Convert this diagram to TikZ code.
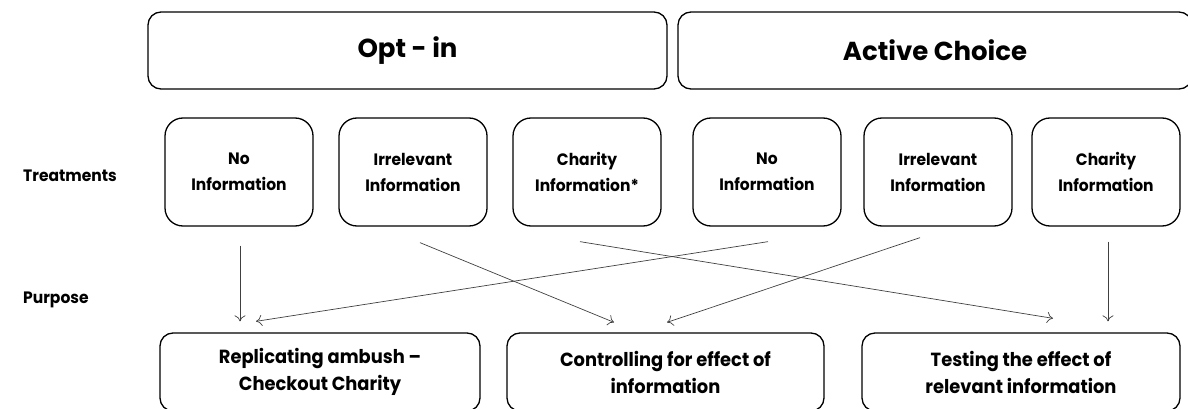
\documentclass[tikz,border=0pt]{standalone}
\usepackage{fontspec}
\setmainfont{Poppins}
\newfontfamily\narrowfont[FakeStretch=0.94]{Poppins}
\usetikzlibrary{calc,arrows.meta}
\begin{document}
\begin{tikzpicture}[x=1pt,y=-1pt,
  topbox/.style={draw=black, line width=1.3pt, rounded corners=13pt, font=\fontsize{26}{30}\selectfont\bfseries, inner sep=0pt},
  tbox/.style={draw=black, line width=1.3pt, rounded corners=18pt, minimum width=148pt, minimum height=108pt, font=\narrowfont\fontsize{16.5}{26}\selectfont\bfseries, align=center, inner sep=0pt},
  pbox/.style={draw=black, line width=1.3pt, rounded corners=13pt, minimum height=78pt, font=\narrowfont\fontsize{19}{27}\selectfont\bfseries, align=center, inner sep=0pt},
  lbl/.style={font=\narrowfont\fontsize{16.5}{20}\selectfont\bfseries, inner sep=0pt},
  arr/.style={draw=black!75, line width=0.7pt, -{To[length=6pt,width=11pt]}}
]
\useasboundingbox (0,0) rectangle (1188,409);
\node[topbox, minimum width=519pt, minimum height=77pt] (optin) at (407.5,50.5) {Opt - in};
\node[topbox, minimum width=514pt, minimum height=77pt] (active) at (935,50.5) {Active Choice};

\node[lbl, anchor=east] (treat) at (117,176) {Treatments};
\node[lbl, anchor=west] (purp) at (treat.west |- 0,300) {Purpose};

\node[tbox] (t1) at (239,172) {No\\Information};
\node[tbox] (t2) at (413,172) {Irrelevant\\Information};
\node[tbox] (t3) at (587,172) {Charity\\Information*};
\node[tbox] (t4) at (767,172) {No\\Information};
\node[tbox] (t5) at (938,172) {Irrelevant\\Information};
\node[tbox] (t6) at (1106,172) {Charity\\Information};

\node[pbox, minimum width=320pt] (p1) at (320,372) {Replicating ambush –\\Checkout Charity};
\node[pbox, minimum width=317pt] (p2) at (665.5,372) {Controlling for effect of\\information};
\node[pbox, minimum width=318pt] (p3) at (1021,372) {Testing the effect of\\relevant information};

\draw[arr] ($(t1.south)+(1,19)$) -- ($(p1.north)+(-80,-11)$);
\draw[arr] ($(t4.south)+(1,15)$) -- ($(p1.north)+(-64,-11)$);
\draw[arr] ($(t2.south)+(7,16)$) -- ($(p2.north)+(-51.5,-10)$);
\draw[arr] ($(t5.south)+(-18,11)$) -- ($(p2.north)+(1.5,-10)$);
\draw[arr] ($(t3.south)+(-7,15)$) -- ($(p3.north)+(32,-14)$);
\draw[arr] ($(t6.south)+(2,15)$) -- ($(p3.north)+(87,-11)$);
\end{tikzpicture}
\end{document}
